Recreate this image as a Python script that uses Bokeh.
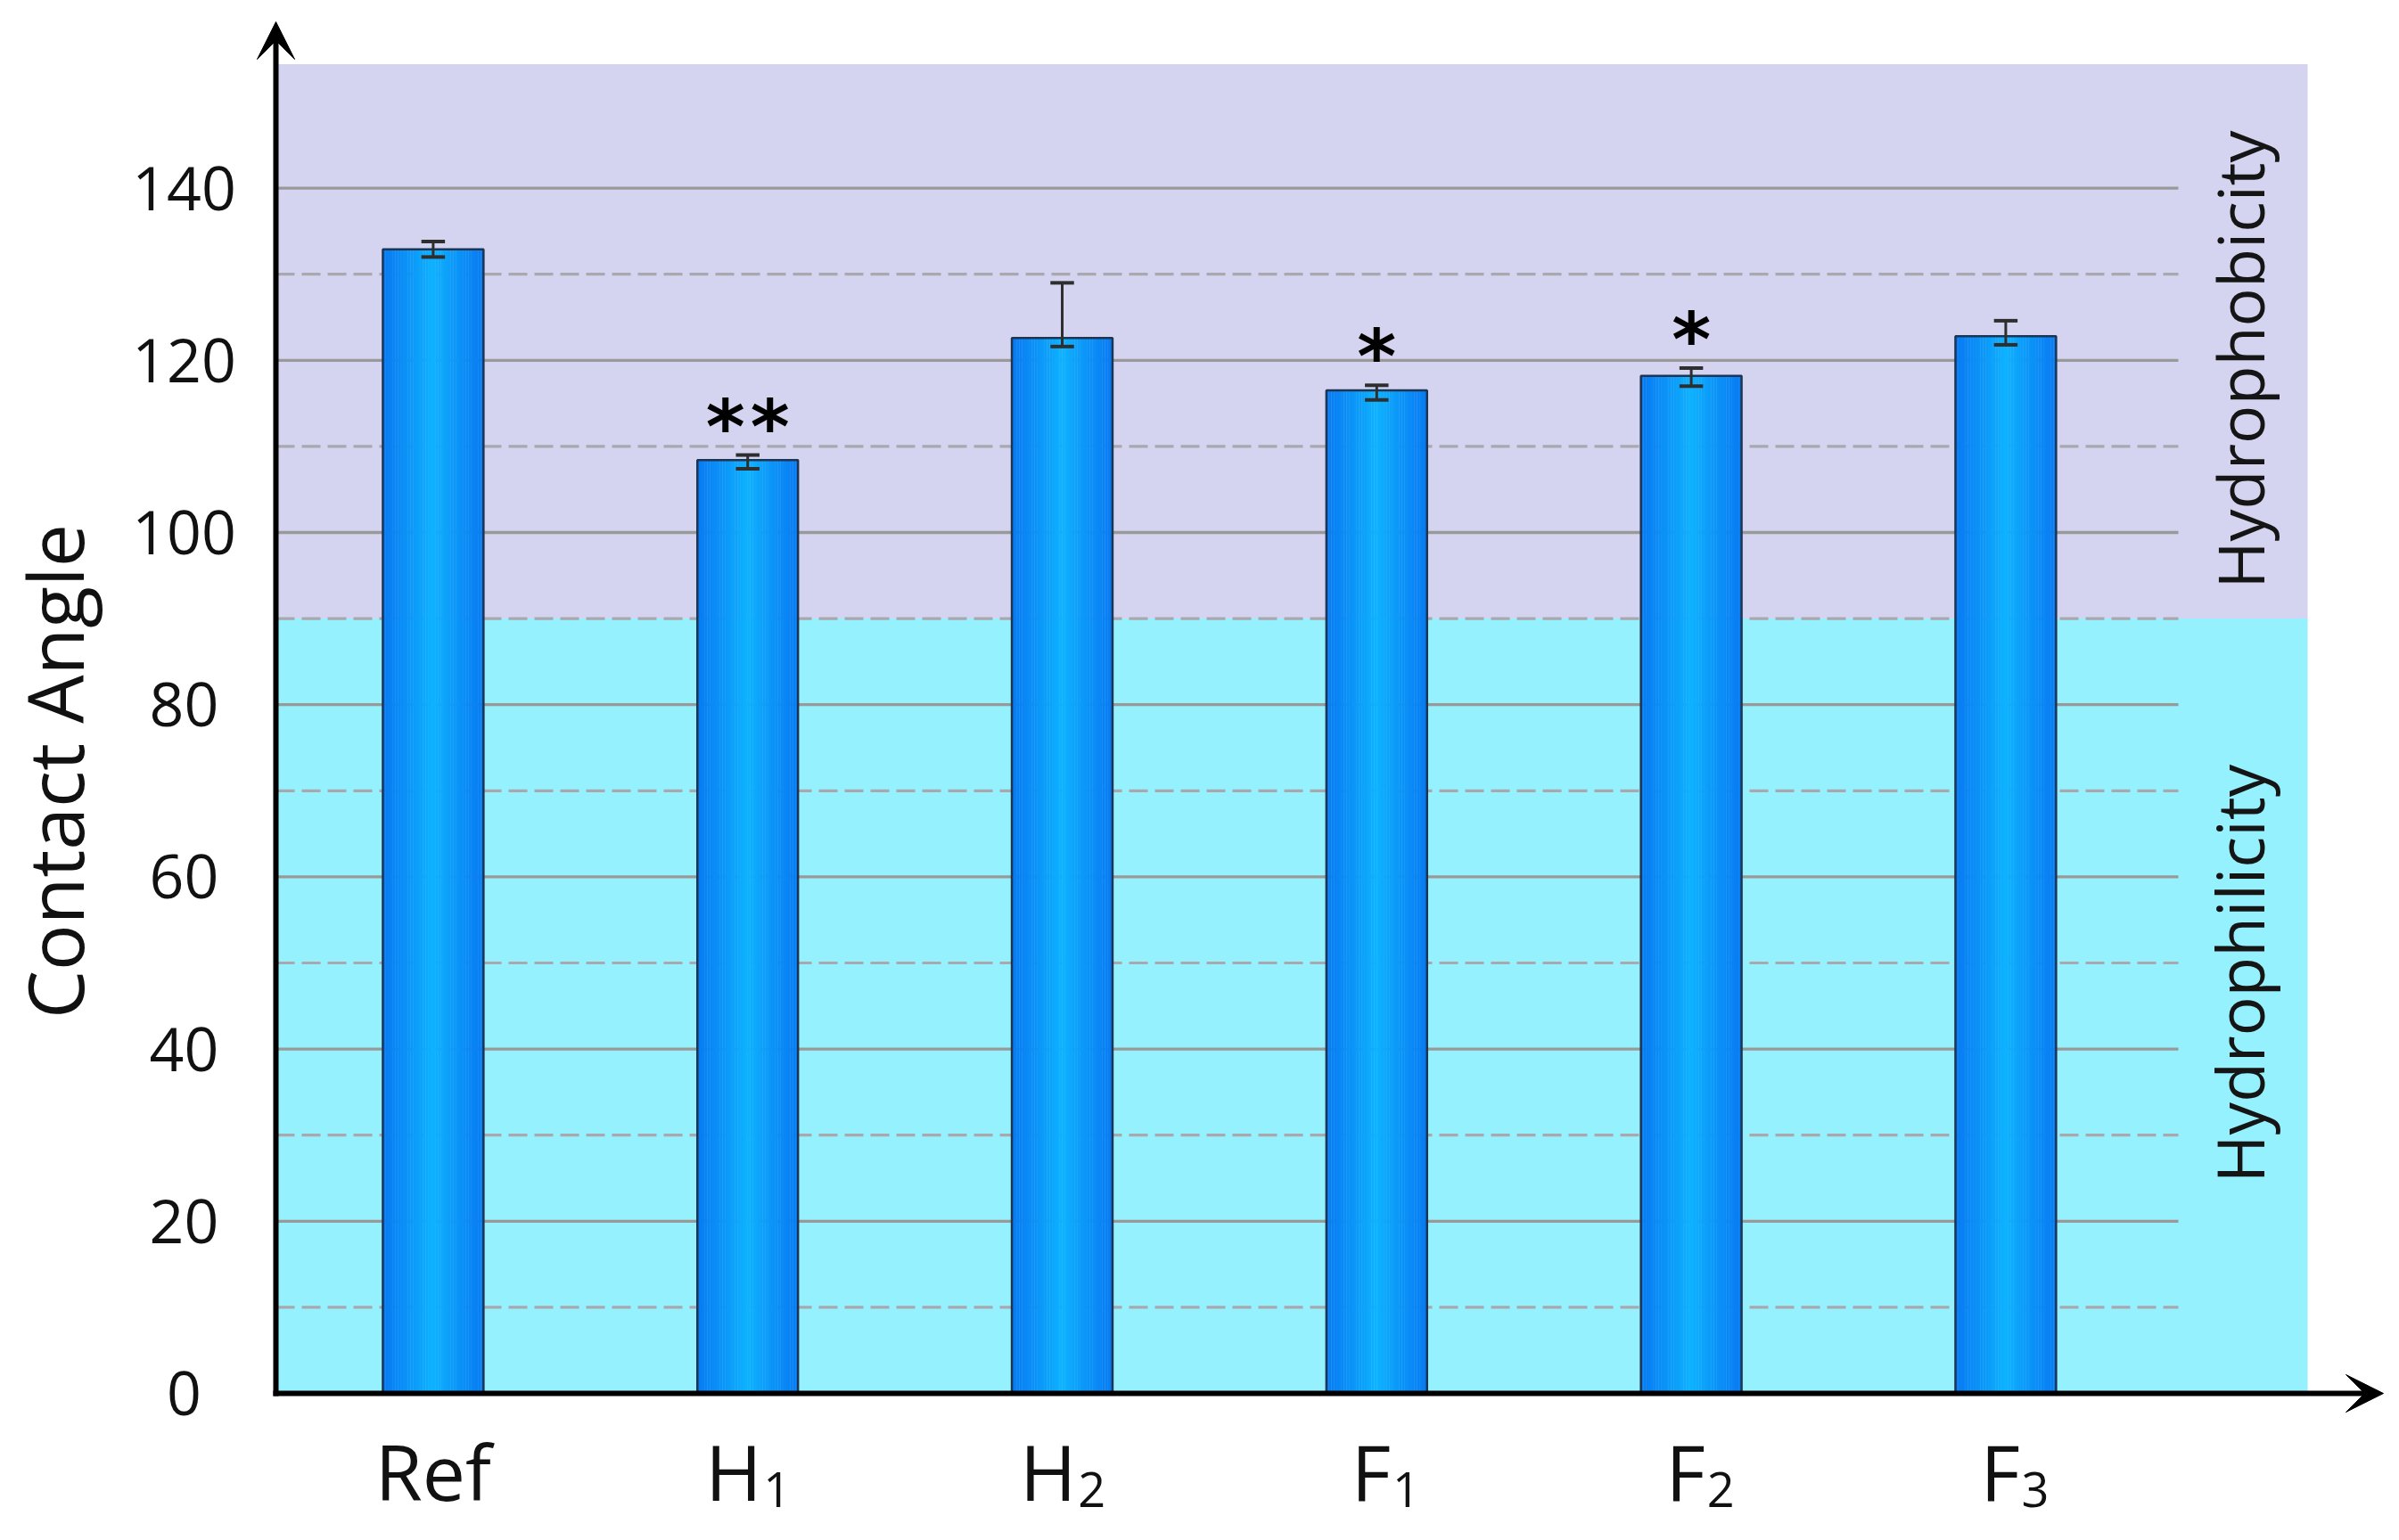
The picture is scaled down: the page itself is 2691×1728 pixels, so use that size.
import numpy as np
from bokeh.plotting import figure
from bokeh.models import Arrow, VeeHead, ColumnDataSource, Range1d, Label
from bokeh.embed import file_html
from bokeh.resources import INLINE

# ---------------- data ----------------
categories = ["Ref", "H", "H", "F", "F", "F"]
subscripts = ["", "1", "2", "1", "2", "3"]
contact_angle = [132.9, 108.4, 122.6, 116.5, 118.2, 122.8]
err_upper = [0.9, 0.6, 6.4, 0.6, 0.9, 1.8]
err_lower = [0.9, 1.0, 1.0, 1.1, 1.2, 1.0]
significance = ["", "**", "", "*", "*", ""]
y_ticks = [0, 20, 40, 60, 80, 100, 120, 140]
minor_grid = [10, 30, 50, 70, 90, 110, 130]
hydrophobic_threshold = 90
region_top = 154.4
region_labels = ["Hydrophobicity", "Hydrophilicity"]
y_title = "Contact Angle"

# ---------------- layout ----------------
W, H = 2675, 1712
PX_X = 352.8          # pixels per category step
PX_Y = 9.66           # pixels per degree
AXIS_FX = 309         # pixel x of the y axis
BASE_FY = 1563        # pixel y of value 0


def px2x(fx):
    return (fx - AXIS_FX) / PX_X - 0.5


def px2y(fy):
    return (BASE_FY - fy) / PX_Y


p = figure(width=W, height=H,
           x_range=Range1d(px2x(0), px2x(W)), y_range=Range1d(px2y(H), px2y(0)),
           output_backend="svg", toolbar_location=None,
           x_axis_location=None, y_axis_location=None, min_border=0)
p.grid.visible = False
p.outline_line_color = None
p.background_fill_color = "white"
p.border_fill_color = "white"

xs = list(range(len(categories)))
x_axis = -0.5
bg_right = px2x(2588)
grid_right = px2x(2443)

# background regions
p.quad(left=[x_axis], right=[bg_right], bottom=[0], top=[hydrophobic_threshold],
       fill_color="#95f1fd", line_color=None)
p.quad(left=[x_axis], right=[bg_right], bottom=[hydrophobic_threshold], top=[region_top],
       fill_color="#d4d4f1", line_color=None)

# grid lines
major = y_ticks[1:]
p.segment(x0=[x_axis] * len(major), x1=[grid_right] * len(major), y0=major, y1=major,
          line_color="#999999", line_width=3.3)
p.segment(x0=[x_axis] * len(minor_grid), x1=[grid_right] * len(minor_grid),
          y0=minor_grid, y1=minor_grid,
          line_color="#a8a8ae", line_width=3.2, line_dash="21 8")

# bars with a horizontal gradient made from thin strips
bar_w = 0.32
N = 40
edge = (8, 122, 242)
center = (14, 180, 255)
sx, sw, st, sc = [], [], [], []
for xc, v in zip(xs, contact_angle):
    for i in range(N):
        t = (i + 0.5) / N
        d = abs(2 * t - 1) ** 0.85
        col = "#%02x%02x%02x" % tuple(int(round(c + (e - c) * d)) for c, e in zip(center, edge))
        sx.append(xc - bar_w / 2 + (i + 0.5) * bar_w / N)
        sw.append(bar_w / N * 1.1)
        st.append(v)
        sc.append(col)
p.vbar(x="x", width="w", top="top", bottom=0, fill_color="c", line_color=None,
       source=ColumnDataSource(dict(x=sx, w=sw, top=st, c=sc)))
p.vbar(x=xs, width=bar_w, top=contact_angle, bottom=0, fill_color=None,
       line_color="#1d3553", line_width=2.5)

# error bars
hi = [v + e for v, e in zip(contact_angle, err_upper)]
lo = [v - e for v, e in zip(contact_angle, err_lower)]
cap = 0.075
p.segment(x0=xs, x1=xs, y0=lo, y1=hi, line_color="#2e2e2e", line_width=3)
p.segment(x0=[x - cap / 2 for x in xs], x1=[x + cap / 2 for x in xs], y0=hi, y1=hi,
          line_color="#2e2e2e", line_width=4)
p.segment(x0=[x - cap / 2 for x in xs], x1=[x + cap / 2 for x in xs], y0=lo, y1=lo,
          line_color="#2e2e2e", line_width=4)

# axes with arrows
p.add_layout(Arrow(x_start=x_axis, y_start=px2y(BASE_FY + 3), x_end=x_axis, y_end=px2y(24),
                   line_width=6, line_color="black",
                   end=VeeHead(size=42, fill_color="black", line_color="black", line_width=1)))
p.add_layout(Arrow(x_start=px2x(AXIS_FX - 3), y_start=0, x_end=px2x(2673), y_end=0,
                   line_width=6, line_color="black",
                   end=VeeHead(size=42, fill_color="black", line_color="black", line_width=1)))


def label(x, y, text, size, font="Open Sans", align="center", angle=0.0,
          style="normal", color="#111111"):
    p.add_layout(Label(x=x, y=y, text=text, angle=angle, text_font=font,
                       text_font_size=size, text_align=align, text_baseline="middle",
                       text_font_style=style, text_color=color))


# significance stars (one label per asterisk)
STAR_DX = 50 / PX_X
for x, h, s in zip(xs, hi, significance):
    n = len(s)
    for k in range(n):
        label(x + (k - (n - 1) / 2) * STAR_DX, h + 3.3, "*", "84px",
              font="DejaVu Sans", style="bold", color="black")

# y tick labels
for t in y_ticks:
    label(px2x(206), t, str(t), "68px")

# y title
label(px2x(60), px2y(865), y_title, "86px", angle=np.pi / 2)

# category labels with subscripts
main_y = px2y(1650)
sub_y = px2y(1671)
for x, c, s in zip(xs, categories, subscripts):
    if s:
        label(x + 0.045, main_y, c, "86px", align="right")
        label(x + 0.05, sub_y, s, "54px", align="left")
    else:
        label(x, main_y, c, "86px")

# region labels
label(px2x(2511), px2y(403), region_labels[0], "72px", angle=np.pi / 2, color="#151515")
label(px2x(2511), px2y(1092), region_labels[1], "73px", angle=np.pi / 2, color="#151515")

open("out.html", "w").write(file_html(p, INLINE))
